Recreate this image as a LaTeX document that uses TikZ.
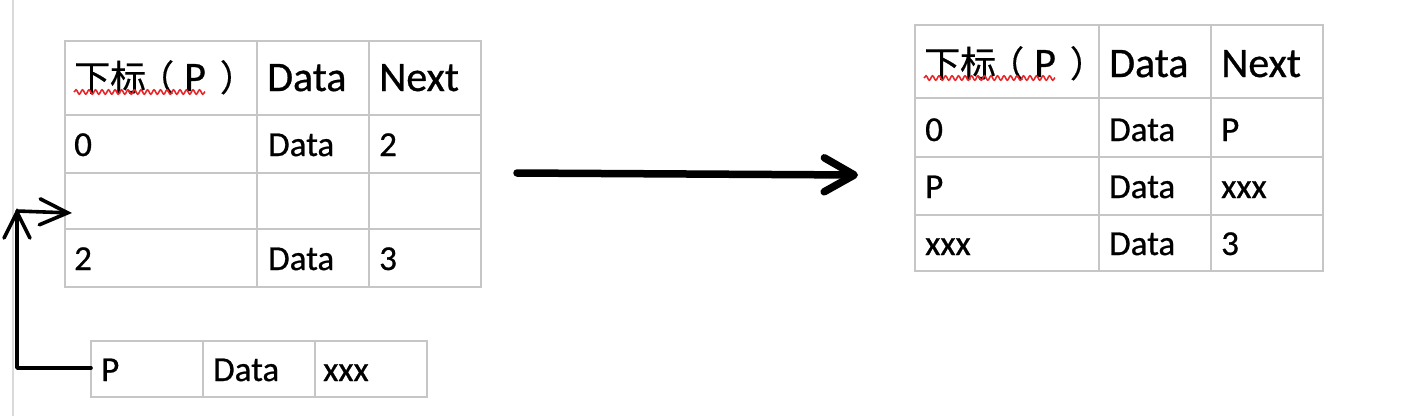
\documentclass[tikz,border=0pt]{standalone}
\usepackage{fontspec}
\setmainfont{Carlito}[FakeBold=0.7]
\newfontfamily\cjk{Noto Sans CJK SC}[FakeBold=0.4]
\usetikzlibrary{arrows.meta,decorations.pathmorphing}
\definecolor{gridgray}{HTML}{C6C6C6}
\definecolor{margingray}{HTML}{DADADA}
\definecolor{squig}{HTML}{E8262A}
\newcommand{\hdtext}{{\cjk\fontsize{36}{36}\selectfont 下标\hspace{-8pt}（}\hspace{10pt}P\hspace{14pt}{\cjk\fontsize{36}{36}\selectfont ）}}
\begin{document}
\begin{tikzpicture}[x=1pt,y=-1pt,
  grid/.style={draw=gridgray, line width=2pt},
  hd/.style={anchor=base west, inner sep=0pt, font=\fontsize{42}{42}\selectfont},
  bd/.style={anchor=base west, inner sep=0pt, font=\fontsize{35}{35}\selectfont},
  wave/.style={draw=squig, line width=1.6pt, decorate, decoration={snake, segment length=6.5pt, amplitude=2.2pt}},
  pen/.style={draw=black, line width=3.6pt, line cap=round, line join=round},
  barbA/.style={-{Straight Barb[length=26pt,width=26pt,line cap=round]}},
  bigpen/.style={draw=black, line width=7.5pt, line cap=round, line join=round,
    -{Straight Barb[length=30pt,width=34pt,line cap=round,line join=round]}}
]
\useasboundingbox (0,0) rectangle (1404,416);
\fill[white] (0,0) rectangle (1404,416);
% margin line
\draw[margingray, line width=2.5pt] (13,0) -- (13,416);

% ---------- left table ----------
\draw[grid] (65,41) rectangle (481,287);
\draw[grid] (257,41) -- (257,287) (369,41) -- (369,287);
\draw[grid] (65,115) -- (481,115) (65,173) -- (481,173) (65,229) -- (481,229);
\node[hd] (l00) at (74,91) {\hdtext};
\node[hd] (l01) at (267,91) {Data};
\node[hd] (l02) at (379,91) {Next};
\node[bd] (l10) at (74,156) {0};
\node[bd] (l11) at (268,156) {Data};
\node[bd] (l12) at (379,156) {2};
\node[bd] (l30) at (74,270) {2};
\node[bd] (l31) at (268,270) {Data};
\node[bd] (l32) at (379,270) {3};
\draw[wave] (74,92) -- (205,92);

% ---------- small table ----------
\draw[grid] (91,341) rectangle (427,397);
\draw[grid] (203,341) -- (203,397) (315,341) -- (315,397);
\node[bd] (s0) at (101,381) {P};
\node[bd] (s1) at (213,381) {Data};
\node[bd] (s2) at (323,381) {xxx};

% ---------- connectors on the left ----------
\coordinate (sw) at (91,368);
\coordinate (bend) at (17,368);
\coordinate (uptip) at (17,208);
\coordinate (rstart) at (17,211);
\coordinate (rtip) at (72,213);
\draw[pen, barbA] (sw) -- (bend) -- (uptip);
\draw[pen, -{Straight Barb[length=28pt,width=26pt,line cap=round]}] (rstart) -- (rtip);

% ---------- big arrow ----------
\coordinate (ba) at (517,173);
\coordinate (bb) at (858,175);
\draw[bigpen] (ba) -- (bb);

% ---------- right table ----------
\draw[grid] (915,25) rectangle (1323,271);
\draw[grid] (1099,25) -- (1099,271) (1211,25) -- (1211,271);
\draw[grid] (915,98) -- (1323,98) (915,157) -- (1323,157) (915,215) -- (1323,215);
\node[hd] (r00) at (924,77) {\hdtext};
\node[hd] (r01) at (1109,77) {Data};
\node[hd] (r02) at (1221,77) {Next};
\node[bd] (r10) at (925,141) {0};
\node[bd] (r11) at (1109,141) {Data};
\node[bd] (r12) at (1221,141) {P};
\node[bd] (r20) at (925,198) {P};
\node[bd] (r21) at (1109,198) {Data};
\node[bd] (r22) at (1221,198) {xxx};
\node[bd] (r30) at (925,255) {xxx};
\node[bd] (r31) at (1109,255) {Data};
\node[bd] (r32) at (1221,255) {3};
\draw[wave] (924,78) -- (1055,78);
\end{tikzpicture}
\end{document}
